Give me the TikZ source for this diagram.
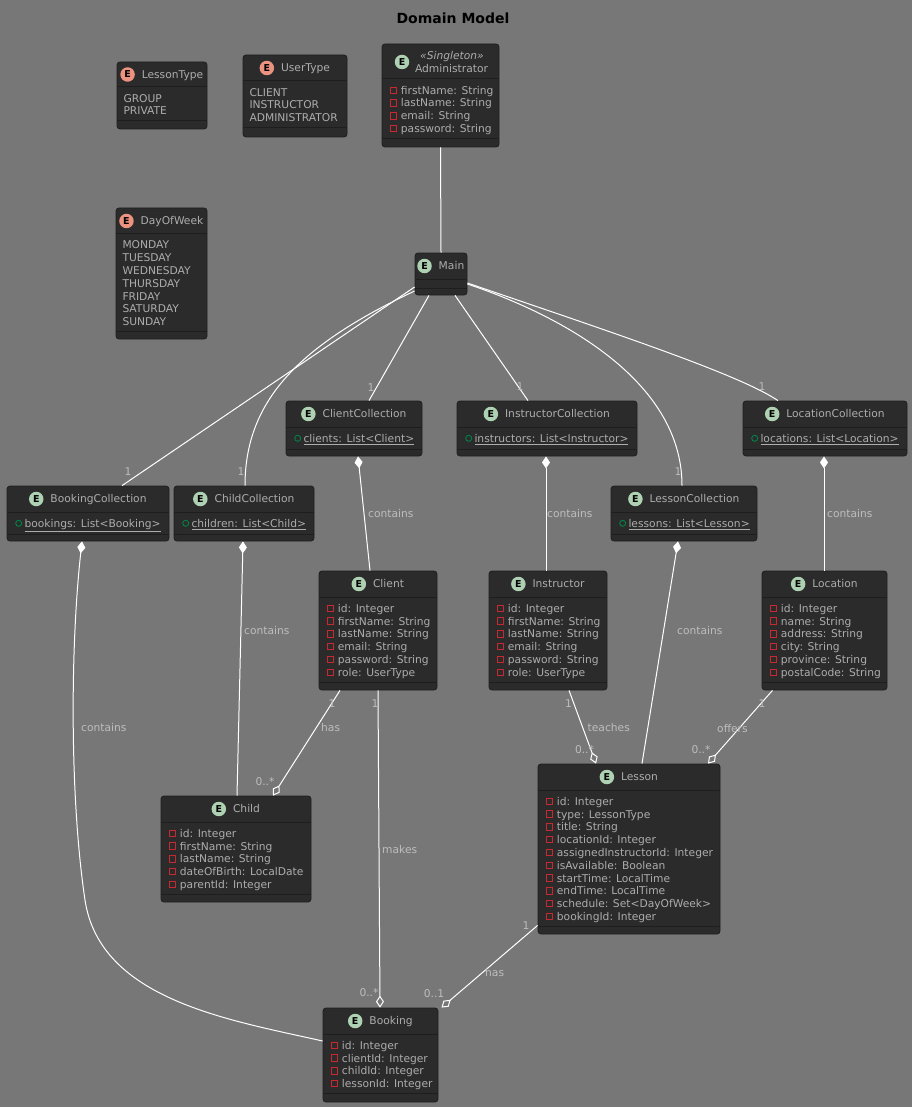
\documentclass[tikz,border=0pt]{standalone}
\usepackage{fontspec}
\setmainfont{DejaVu Sans}
\usetikzlibrary{arrows.meta}

\definecolor{bgc}{HTML}{777777}
\definecolor{boxc}{HTML}{2B2B2B}
\definecolor{rimc}{HTML}{1E1E1E}
\definecolor{txtc}{HTML}{ADADAD}
\definecolor{lblc}{HTML}{BDBDBD}
\definecolor{entc}{HTML}{ADD1B2}
\definecolor{enumc}{HTML}{EB937F}
\definecolor{privc}{HTML}{C82930}
\definecolor{pubc}{HTML}{038048}

\tikzset{
  box/.style={draw=rimc, line width=0.8pt, fill=boxc, rounded corners=3pt, inner sep=0pt},
  sepline/.style={draw=rimc, line width=1pt},
  txt/.style={font=\fontsize{10.7}{12.8}\selectfont, text=txtc, inner sep=0pt},
  htext/.style={txt, anchor=base},
  attr/.style={txt, anchor=base west},
  eicon/.style={circle, minimum size=14.5pt, inner sep=0pt, text=black,
                font=\fontsize{9.5}{9.5}\selectfont\bfseries},
  privmark/.style={draw=privc, line width=0.9pt},
  pubmark/.style={draw=pubc, line width=0.9pt},
  conn/.style={draw=white, line width=1pt},
  lbl/.style={font=\fontsize{10.7}{12.8}\selectfont, text=lblc, inner sep=0pt},
  comp/.style={conn, {Diamond[fill=white, length=12pt, width=8pt]}-},
  aggr/.style={conn, -{Diamond[open, length=12pt, width=8pt]}},
}

% class box: name, left, top, right, bottom, first divider, second divider
\newcommand\umlbox[7]{%
  \pgfmathsetmacro\bw{#4-#2}\pgfmathsetmacro\bh{#5-#3}%
  \node[box, minimum width=\bw pt, minimum height=\bh pt] (#1) at ({(#2+#4)/2},{(#3+#5)/2}) {};
  \draw[sepline] (#2,#6) -- (#4,#6);
  \draw[sepline] (#2,#7) -- (#4,#7);
}
% header: name, centre x, centre y, icon colour, title
\newcommand\umlhead[5]{%
  \node[htext] (#1-name) at (#2,{#3+3.9}) {\hspace*{21pt}#5};
  \node[eicon, fill=#4] (#1-icon) at ([xshift=7pt,yshift=3.9pt]#1-name.base west) {E};
}
% private fields: prefix, left x, first line centre y, list
\newcommand\privattrs[4]{%
  \foreach \vtext [count=\idx from 0] in {#4}{%
    \pgfmathsetmacro\yy{#3+12.8*\idx}
    \draw[privmark] ({#2+8.3},{\yy-3.2}) rectangle ({#2+14.7},{\yy+3.2});
    \node[attr] (#1-a\idx) at ({#2+18.7},{\yy+3.9}) {\vtext};
  }}
% public static fields
\newcommand\pubattrs[4]{%
  \foreach \vtext [count=\idx from 0] in {#4}{%
    \pgfmathsetmacro\yy{#3+12.8*\idx}
    \draw[pubmark] ({#2+11.7},\yy) circle (3pt);
    \node[attr] (#1-a\idx) at ({#2+17.3},{\yy+3.9}) {\underline{\vtext}};
  }}
% enum constants
\newcommand\enumvals[4]{%
  \foreach \vtext [count=\idx from 0] in {#4}{%
    \pgfmathsetmacro\yy{#3+12.8*\idx}
    \node[attr] (#1-v\idx) at ({#2+6.3},{\yy+3.9}) {\vtext};
  }}

\begin{document}
\begin{tikzpicture}[x=1pt, y=-1pt]
\useasboundingbox (0,0) rectangle (912,1107);
\fill[bgc] (0,0) rectangle (912,1107);

\node[font=\fontsize{14}{16}\selectfont\bfseries, text=black, inner sep=0pt] (title) at (453,18) {Domain Model};

% ---------- enumerations ----------
\umlbox{lessontype}{117}{62}{207}{129}{87}{121}
\umlhead{lessontype}{162}{74.5}{enumc}{LessonType}
\enumvals{lessontype}{117}{98.3}{GROUP,PRIVATE}

\umlbox{usertype}{243}{55}{347}{137}{81}{128}
\umlhead{usertype}{295}{68}{enumc}{UserType}
\enumvals{usertype}{243}{92.3}{CLIENT,INSTRUCTOR,ADMINISTRATOR}

\umlbox{dayofweek}{116}{208}{207}{339}{234}{331}
\umlhead{dayofweek}{161.5}{221}{enumc}{DayOfWeek}
\enumvals{dayofweek}{116}{245}{MONDAY,TUESDAY,WEDNESDAY,THURSDAY,FRIDAY,SATURDAY,SUNDAY}

% ---------- administrator ----------
\umlbox{admin}{382}{44}{499}{147}{79}{139}
\node[eicon, fill=entc] (admin-icon) at (402,62) {E};
\node[txt, anchor=base, font=\fontsize{10.7}{12.8}\selectfont\itshape] (admin-stereo) at (452,59.9) {«Singleton»};
\node[htext] (admin-name) at (451.5,72.9) {Administrator};
\privattrs{admin}{382}{90.3}{firstName: String,lastName: String,email: String,password: String}

% ---------- main ----------
\umlbox{main}{415}{253}{467}{295}{279}{288}
\umlhead{main}{441}{266}{entc}{Main}

% ---------- collections ----------
\umlbox{clientcoll}{286}{401}{422}{456}{427}{449}
\umlhead{clientcoll}{354}{414}{entc}{ClientCollection}
\pubattrs{clientcoll}{286}{438.3}{clients: List<Client>}

\umlbox{instrcoll}{457}{401}{637}{456}{427}{449}
\umlhead{instrcoll}{547}{414}{entc}{InstructorCollection}
\pubattrs{instrcoll}{457}{438.3}{instructors: List<Instructor>}

\umlbox{loccoll}{743}{401}{907}{456}{427}{449}
\umlhead{loccoll}{825}{414}{entc}{LocationCollection}
\pubattrs{loccoll}{743}{438.3}{locations: List<Location>}

\umlbox{bookingcoll}{7}{486}{169}{541}{512}{534}
\umlhead{bookingcoll}{88}{499}{entc}{BookingCollection}
\pubattrs{bookingcoll}{7}{523.3}{bookings: List<Booking>}

\umlbox{childcoll}{174}{486}{314}{541}{512}{534}
\umlhead{childcoll}{244}{499}{entc}{ChildCollection}
\pubattrs{childcoll}{174}{523.3}{children: List<Child>}

\umlbox{lessoncoll}{611}{486}{757}{541}{512}{534}
\umlhead{lessoncoll}{684}{499}{entc}{LessonCollection}
\pubattrs{lessoncoll}{611}{523.3}{lessons: List<Lesson>}

% ---------- entities ----------
\umlbox{client}{319}{571}{437}{690}{597}{682}
\umlhead{client}{378}{584}{entc}{Client}
\privattrs{client}{319}{608.3}{id: Integer,firstName: String,lastName: String,email: String,password: String,role: UserType}

\umlbox{instructor}{489}{571}{607}{690}{597}{682}
\umlhead{instructor}{548}{584}{entc}{Instructor}
\privattrs{instructor}{489}{608.3}{id: Integer,firstName: String,lastName: String,email: String,password: String,role: UserType}

\umlbox{location}{762}{571}{887}{690}{597}{682}
\umlhead{location}{824.5}{584}{entc}{Location}
\privattrs{location}{762}{608.3}{id: Integer,name: String,address: String,city: String,province: String,postalCode: String}

\umlbox{child}{161}{796}{311}{902}{822}{894}
\umlhead{child}{236}{809}{entc}{Child}
\privattrs{child}{161}{833.3}{id: Integer,firstName: String,lastName: String,dateOfBirth: LocalDate,parentId: Integer}

\umlbox{lesson}{538}{764}{720}{934}{790}{926}
\umlhead{lesson}{629}{777}{entc}{Lesson}
\privattrs{lesson}{538}{801.3}{id: Integer,type: LessonType,title: String,locationId: Integer,assignedInstructorId: Integer,isAvailable: Boolean,startTime: LocalTime,endTime: LocalTime,schedule: Set<DayOfWeek>,bookingId: Integer}

\umlbox{booking}{323}{1008}{438}{1102}{1034}{1093}
\umlhead{booking}{380.5}{1021}{entc}{Booking}
\privattrs{booking}{323}{1045.3}{id: Integer,clientId: Integer,childId: Integer,lessonId: Integer}

% ---------- connectors from Main ----------
\draw[conn] (admin.south) -- (main.north);
\draw[conn] ([yshift=-13pt]main.west) -- ([xshift=34pt]bookingcoll.north);
\draw[conn] ([yshift=-17pt]main.west) .. controls (300,345) and (245,400) .. ([xshift=1pt]childcoll.north);
\draw[conn] ([xshift=-12pt]main.south) -- ([xshift=15pt]clientcoll.north);
\draw[conn] ([xshift=14pt]main.south) -- ([xshift=-19pt]instrcoll.north);
\draw[conn] ([yshift=-10pt]main.east) .. controls (560,315) and (682,380) .. ([xshift=-2pt]lessoncoll.north);
\draw[conn] ([yshift=-9pt]main.east) .. controls (620,335) and (740,375) .. ([xshift=-47pt]loccoll.north);

\node[lbl] (m-book) at (128,472) {1};
\node[lbl] (m-child) at (241,472) {1};
\node[lbl] (m-client) at (371,388) {1};
\node[lbl] (m-instr) at (520,387) {1};
\node[lbl] (m-lesson) at (678,472) {1};
\node[lbl] (m-loc) at (762,387) {1};

% ---------- compositions ----------
\draw[comp] ([xshift=4pt]clientcoll.south) -- ([xshift=-8pt]client.north);
\draw[comp] ([xshift=-1pt]instrcoll.south) -- ([xshift=-2pt]instructor.north);
\draw[comp] ([xshift=-1pt]loccoll.south) -- ([xshift=-0.5pt]location.north);
\draw[comp] ([xshift=-6pt]lessoncoll.south) -- ([xshift=13pt]lesson.north);
\draw[comp] ([xshift=-1pt]childcoll.south) -- ([xshift=1pt]child.north);
\draw[comp] ([xshift=-6pt]bookingcoll.south) .. controls (70,650) and (70,800) .. (85,900)
            .. controls (100,1000) and (230,1020) .. ([yshift=14pt]booking.west);

\node[lbl, anchor=west] (c-client) at (368,514) {contains};
\node[lbl, anchor=west] (c-instr) at (547,514) {contains};
\node[lbl, anchor=west] (c-loc) at (827,514) {contains};
\node[lbl, anchor=west] (c-lesson) at (677,631) {contains};
\node[lbl, anchor=west] (c-child) at (244,631) {contains};
\node[lbl, anchor=west] (c-book) at (81,728) {contains};

% ---------- aggregations ----------
\draw[aggr] ([xshift=-38pt]client.south) -- ([xshift=37pt]child.north);
\node[lbl] (h1) at (332,704) {1};
\node[lbl, anchor=west] (h-has) at (321,728) {has};
\node[lbl] (h-many) at (265,782) {0..*};

\draw[aggr] (client.south) -- ([xshift=-0.5pt]booking.north);
\node[lbl] (mk1) at (375,704) {1};
\node[lbl, anchor=west] (mk-makes) at (382,850) {makes};
\node[lbl] (mk-many) at (369,993) {0..*};

\draw[aggr] ([xshift=21pt]instructor.south) -- ([xshift=-33pt]lesson.north);
\node[lbl] (t1) at (568.5,704) {1};
\node[lbl, anchor=west] (t-teaches) at (587.5,728) {teaches};
\node[lbl] (t-many) at (584.5,750) {0..*};

\draw[aggr] ([xshift=-52pt]location.south) -- ([xshift=79pt]lesson.north);
\node[lbl] (o1) at (762,704) {1};
\node[lbl, anchor=west] (o-offers) at (717,729) {offers};
\node[lbl] (o-many) at (701,750) {0..*};

\draw[aggr] ([yshift=9pt]lesson.south west) -- ([xshift=61pt]booking.north);
\node[lbl] (lb1) at (526,926) {1};
\node[lbl, anchor=west] (lb-has) at (485,972) {has};
\node[lbl] (lb-one) at (434,994) {0..1};
\end{tikzpicture}
\end{document}
